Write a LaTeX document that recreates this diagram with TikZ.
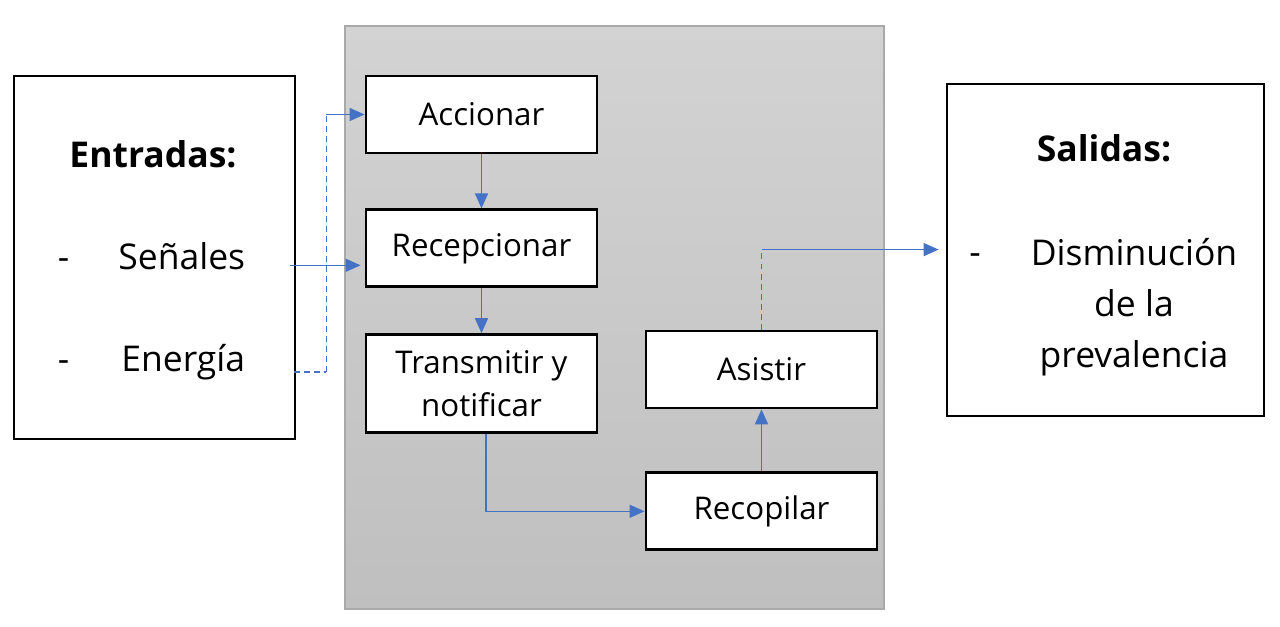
\documentclass[tikz,border=0pt]{standalone}
\usepackage{fontspec}
\setmainfont{Open Sans}
\usepackage{xcolor}
\usepackage{tikz}
\usetikzlibrary{arrows.meta, positioning}

\definecolor{flowblue}{HTML}{4472C4}
\definecolor{panelTop}{HTML}{D3D3D3}
\definecolor{panelBot}{HTML}{BFBFBF}
\definecolor{panelEdge}{HTML}{A9A9A9}

\tikzset{
    proc/.style={draw, line width=1.6pt, fill=white, minimum width=4.62cm, minimum height=1.54cm,
        align=center, inner sep=0pt, font=\fontsize{17.8}{24.5}\selectfont},
    frame/.style={draw, line width=1.6pt, fill=white, inner sep=0pt},
    big/.style={inner sep=0pt, font=\fontsize{20.2}{29.3}\selectfont},
    flow/.style={flowblue, line width=0.9pt, -{Triangle[length=0.3cm, width=0.26cm]}},
    dash line/.style={flowblue, line width=0.9pt, dash pattern=on 3.4pt off 2.3pt}
}

\begin{document}
\begin{tikzpicture}
            \useasboundingbox (0,0) rectangle (25.6,-12.54);
            \shadedraw[top color=panelTop, bottom color=panelBot, draw=panelEdge, line width=0.6pt]
                (6.9,-0.52) rectangle (17.68,-12.18);

            \node[frame, minimum width=5.62cm, minimum height=7.26cm] (entradas) at (3.09,-5.15) {};
            \node[frame, minimum width=6.34cm, minimum height=6.64cm] (salidas) at (22.11,-5.0) {};

            \node[big, anchor=base, font=\fontsize{20.2}{24}\selectfont\bfseries] (tEntradas) at (3.06,-3.36) {Entradas:};
            \node[big, anchor=base] (guion1) at (1.27,-5.40) {-};
            \node[big, anchor=base west] (senales) at (2.36,-5.40) {Señales};
            \node[big, anchor=base] (guion2) at (1.27,-7.44) {-};
            \node[big, anchor=base west] (energia) at (2.42,-7.44) {Energía};

            \node[big, anchor=base, font=\fontsize{20.2}{24}\selectfont\bfseries] (tSalidas) at (22.08,-3.24) {Salidas:};
            \node[big, anchor=base] (guion3) at (19.5,-5.30) {-};
            % base = last line
            \node[big, anchor=base, align=center] (dism) at (22.68,-7.36) {Disminución\\de la\\prevalencia};

            \node[proc] (acc) at (9.63,-2.29) {Accionar};
            \node[proc, below=1.08cm of acc] (rec) {Recepcionar};
            \node[proc, below=0.9cm of rec, minimum height=1.96cm] (tra) {Transmitir y\\notificar};
            \node[proc] (asi) at (15.23,-7.39) {Asistir};
            \node[proc, below=1.24cm of asi] (rcp) {Recopilar};

            \draw[flow] (acc) -- (rec);
            \draw[flow] (rec) -- (tra);
            \draw[flow] ([xshift=0.09cm]tra.south) |- (rcp.west);
            \draw[flow] (rcp) -- (asi);

            % entradas
            \draw[flow, shorten >=0.08cm] ([xshift=-0.12cm]entradas.east |- senales.mid) -- (rec.west |- senales.mid);
            \draw[dash line] ([xshift=-0.05cm]entradas.east |- energia.base) -- ++(0.65,0) coordinate (subida);
            \draw[dash line] (subida) -- (subida |- acc.west) coordinate (codoAcc);
            \draw[flow] (codoAcc) -- (acc.west);

            % salida
            \draw[dash line] (asi.north) -- ++(0,1.6) coordinate (codoAsi);
            \draw[flow, shorten >=0.14cm] (codoAsi) -- (salidas.west |- codoAsi);

        \end{tikzpicture}
\end{document}
